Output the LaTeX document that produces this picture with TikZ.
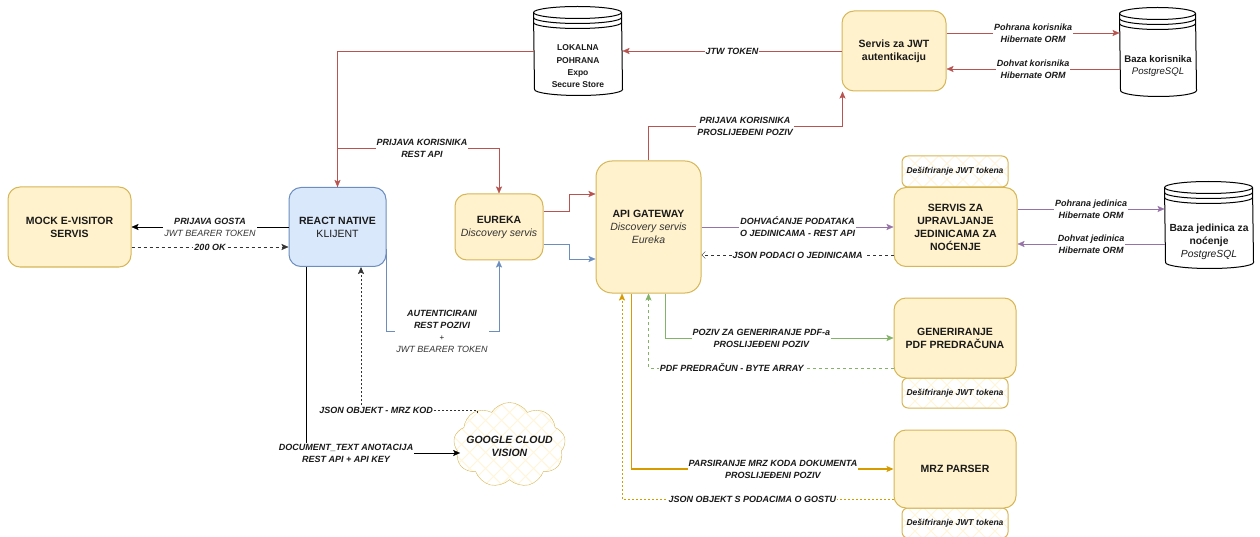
\documentclass[tikz,border=0pt]{standalone}
\usepackage{fontspec}
\setmainfont{Liberation Sans}
\usetikzlibrary{arrows.meta,shapes.symbols,backgrounds}
\definecolor{yfill}{HTML}{FFF2CC}
\definecolor{ybord}{HTML}{D6B656}
\definecolor{bfill}{HTML}{DAE8FC}
\definecolor{bbord}{HTML}{6C8EBF}
\definecolor{cred}{HTML}{B85450}
\definecolor{cpur}{HTML}{9673A6}
\definecolor{cgrn}{HTML}{82B366}
\definecolor{corg}{HTML}{D79B00}
\definecolor{hatchc}{HTML}{FFF5DA}
\definecolor{txt}{HTML}{1A1A1A}
\definecolor{txtb}{HTML}{333333}
\newcommand\fs[2]{\fontsize{#1}{#2}\selectfont}
\newcommand\dstore[2]{%
  \path[draw=black, line width=1pt, fill=white] ([yshift=-6pt]#1.north west)
    arc[start angle=180, end angle=0, x radius=#2, y radius=6pt]
    -- ([yshift=6pt]#1.south east)
    arc[start angle=0, end angle=-180, x radius=#2, y radius=6pt] -- cycle;
  \foreach \d in {0,5,10}
    \draw[line width=1pt] ([yshift=-6pt-\d pt]#1.north west)
      arc[start angle=180, end angle=360, x radius=#2, y radius=6pt];
}
\begin{document}
\begin{tikzpicture}[x=1pt,y=-1pt,line width=1pt,
  ybox/.style={draw=ybord, fill=yfill, rounded corners=12pt, align=center,
    font=\bfseries\fs{10.5}{13}, text=txt, inner sep=2pt},
  bbox/.style={ybox, draw=bbord, fill=bfill},
  hatch/.style={path picture={
    \foreach \i in {-12,...,12}{
      \draw[hatchc, line width=1pt] ([xshift=\i*16pt]path picture bounding box.center) ++(-80pt,-80pt) -- ++(160pt,160pt);
      \draw[hatchc, line width=1pt] ([xshift=\i*16pt]path picture bounding box.center) ++(-80pt,80pt) -- ++(160pt,-160pt);
    }}},
  hbox/.style={draw=ybord, fill=white, hatch, rounded corners=6pt, minimum width=106pt,
    minimum height=30pt, font=\bfseries\itshape\fs{8.5}{10}, text=txt, inner sep=1pt},
  dsn/.style={rectangle, inner sep=0pt},
  dstext/.style={align=center, font=\bfseries\fs{10.3}{13}, text=txt, inner sep=1pt},
  cloudn/.style={cloud, cloud puffs=9, cloud puff arc=115, aspect=1.3, draw=ybord, fill=white, hatch,
    minimum width=112pt, minimum height=85pt, inner sep=0pt},
  cloudt/.style={align=center, font=\bfseries\itshape\fs{10.5}{13}, text=txt, inner sep=0pt},
  lbl/.style={fill=white, inner sep=1pt, align=center, font=\bfseries\itshape\fs{9}{12}, text=txt},
  arr/.style={-{Stealth[length=7pt,width=6pt,inset=1.5pt]}},
  oarr/.style={-{Straight Barb[length=3.5pt,width=7pt]}},
  cr/.style={draw=cred}, cb/.style={draw=bbord}, cp/.style={draw=cpur},
  cg/.style={draw=cgrn}, co/.style={draw=corg}, blk/.style={draw=black}, dk/.style={draw=txtb},
  dsh/.style={dash pattern=on 3pt off 3pt},
  dtt/.style={dash pattern=on 2pt off 2pt}
]
\useasboundingbox (0,0) rectangle (1260,537);

% hatched notes (behind main boxes)
\node[hbox, minimum height=31pt] (dj1) at (955,171.5) {Dešifriranje JWT tokena};
\node[hbox] (dj2) at (955,393) {Dešifriranje JWT tokena};
\node[hbox] (dj3) at (955,523) {Dešifriranje JWT tokena};

% main boxes
\node[ybox, minimum width=123pt, minimum height=80pt] (mock) at (69.5,227) {MOCK E-VISITOR\\SERVIS};
\node[bbox, minimum width=97pt, minimum height=79pt] (react) at (337.5,227) {REACT NATIVE\\{\mdseries KLIJENT}};
\node[ybox, minimum width=88pt, minimum height=66pt] (eureka) at (499,227) {EUREKA\\{\mdseries\itshape\color{txtb}Discovery servis}};
\node[ybox, minimum width=105pt, minimum height=132pt, rounded corners=16pt] (gw) at (648.5,227)
  {API GATEWAY\\{\mdseries\itshape\color{txtb}Discovery servis}\\{\mdseries\itshape\color{txtb}Eureka}};
\node[ybox, minimum width=104pt, minimum height=80pt] (jwt) at (894,51) {Servis za JWT\\autentikaciju};
\node[ybox, minimum width=123pt, minimum height=79pt] (sj) at (955.5,227) {SERVIS ZA\\UPRAVLJANJE\\JEDINICAMA ZA\\NOĆENJE};
\node[ybox, minimum width=122pt, minimum height=80pt] (pdf) at (955,338) {GENERIRANJE\\PDF PREDRAČUNA};
\node[ybox, minimum width=122pt, minimum height=78pt] (mrz) at (955,469) {MRZ PARSER};

% data stores
\node[dsn, minimum width=88pt, minimum height=88pt] (store) at (578,51) {};
\node[dsn, minimum width=76pt, minimum height=88pt] (bazak) at (1158,52) {};
\node[dsn, minimum width=88pt, minimum height=86pt] (bazaj) at (1209,225) {};
\begin{pgfonlayer}{background}
  \dstore{store}{44pt}
  \dstore{bazak}{38pt}
  \dstore{bazaj}{44pt}
\end{pgfonlayer}
\node[dstext, font=\bfseries\fs{8.5}{12.3}] (storet) at (578,66.5) {LOKALNA\\POHRANA\\Expo\\Secure Store};
\node[dstext, font=\bfseries\fs{9.6}{12.5}] (bazakt) at (1158,66) {Baza korisnika\\{\mdseries\itshape PostgreSQL}};
\node[dstext] (bazajt) at (1209,241.5) {Baza jedinica za\\noćenje\\{\mdseries\itshape PostgreSQL}};

% cloud
\node[cloudn] (cloud) at (509.5,445) {};
\node[cloudt] (cloudtxt) at (509.5,446) {GOOGLE CLOUD\\VISION};

% connectors
\draw[cr, arr] (store.west) -| (react.north);
\draw[cr, arr] (jwt.west) -- node[lbl]{JTW TOKEN} (store.east);
\coordinate (pk) at (422,148);
\draw[cr, arr] (react.north) |- (pk) -| (eureka.north);
\node[lbl] (pkl) at (pk) {PRIJAVA KORISNIKA\\REST API};

\draw[cr, arr] ([yshift=16pt]eureka.east) -- ++(26,0) |- ([yshift=33pt]gw.west);
\draw[cb, arr] ([yshift=-17pt]eureka.east) -- ++(26,0) |- ([yshift=-32pt]gw.west);
\coordinate (ak) at (442,331);
\draw[cb, arr] ([yshift=-22pt]react.east) |- (ak) -| (eureka.south);
\node[lbl] (akl) at (ak) {AUTENTICIRANI\\REST POZIVI\\{\mdseries\upshape\fs{8}{11}+}\\{\mdseries\color{txtb}JWT BEARER TOKEN}};

\coordinate (pkp) at (745,126);
\draw[cr, arr] (gw.north) |- (pkp) -| ([xshift=1pt]jwt.south west);
\node[lbl] (pkpl) at (pkp) {PRIJAVA KORISNIKA\\PROSLIJEĐENI POZIV};

\draw[cr, arr] ([yshift=18pt]jwt.east) -- node[lbl]{Pohrana korisnika\\Hibernate ORM} ([yshift=19pt]bazak.west);
\draw[cr, arr] ([yshift=-17pt]bazak.west) -- node[lbl]{Dohvat korisnika\\Hibernate ORM} ([yshift=-18pt]jwt.east);

\draw[cp, arr] (gw.east) -- node[lbl]{DOHVAĆANJE PODATAKA\\O JEDINICAMA - REST API} (sj.west);
\draw[dk, dsh, oarr] ([yshift=-28pt]sj.west) -- node[lbl]{JSON PODACI O JEDINICAMA} ([yshift=-28pt]gw.east);
\draw[cp, arr] ([yshift=18pt]sj.east) -- node[lbl]{Pohrana jedinica\\Hibernate ORM} ([yshift=16pt]bazaj.west);
\draw[cp, arr] ([yshift=-19pt]bazaj.west) -- node[lbl]{Dohvat jedinica\\Hibernate ORM} ([yshift=-17pt]sj.east);

\draw[cg, arr] ([xshift=17pt]gw.south) |- node[lbl, pos=0.71]{POZIV ZA GENERIRANJE PDF-a\\PROSLIJEĐENI POZIV} (pdf.west);
\draw[cg, dsh, arr] ([yshift=-30pt]pdf.west) -| node[lbl, pos=0.33]{PDF PREDRAČUN - BYTE ARRAY} (gw.south);
\draw[co, line width=1.4pt, arr] ([xshift=-17pt]gw.south) |- node[lbl, pos=0.77]{PARSIRANJE MRZ KODA DOKUMENTA\\PROSLIJEĐENI POZIV} (mrz.west);
\draw[co, dtt, arr] ([yshift=-30pt]mrz.west) -| node[lbl, pos=0.26]{JSON OBJEKT S PODACIMA O GOSTU} ([xshift=-26.5pt]gw.south);

\draw[blk, arr] (react.west) -- node[lbl]{PRIJAVA GOSTA\\{\mdseries\color{txtb}JWT BEARER TOKEN}} (mock.east);
\draw[dk, dsh, arr] ([yshift=-20pt]mock.east) -- node[lbl]{200 OK} ([yshift=-20pt]react.west);

\draw[blk, arr] ([xshift=-31.5pt]react.south) |- node[lbl, pos=0.63]{DOCUMENT\_TEXT ANOTACIJA\\REST API + API KEY} ([yshift=-8pt,xshift=6pt]cloud.west);
\draw[dk, dtt, arr] ([xshift=-32.5pt,yshift=-11pt]cloud.north) -- ++(0,-3) -| node[lbl, pos=0.435]{JSON OBJEKT - MRZ KOD} ([xshift=23.5pt]react.south);
\end{tikzpicture}
\end{document}
